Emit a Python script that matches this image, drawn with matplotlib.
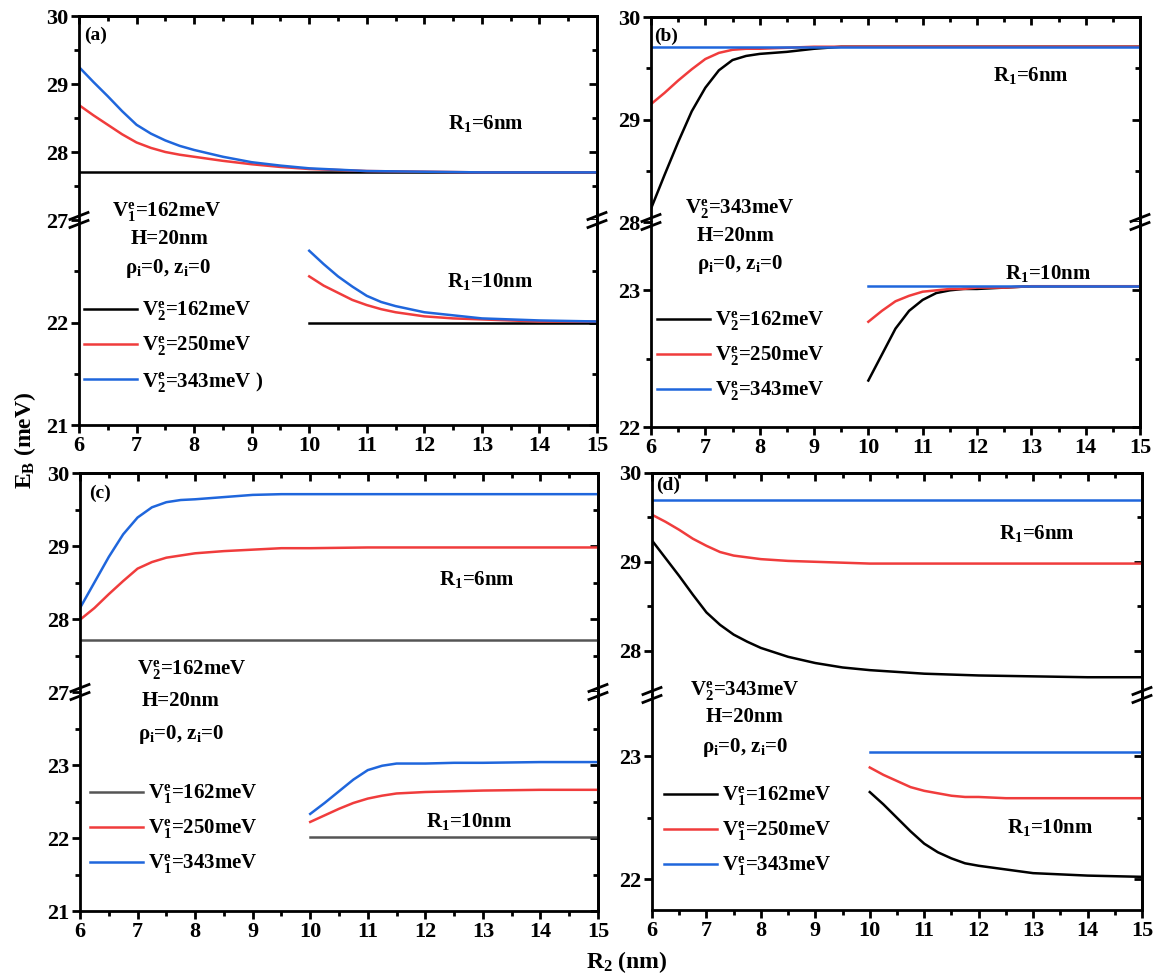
import numpy as np
import matplotlib
matplotlib.use('Agg')
import matplotlib.pyplot as plt
from matplotlib.lines import Line2D

plt.rcParams['font.family'] = ['Liberation Serif', 'DejaVu Serif']
plt.rcParams['font.weight'] = 'bold'
plt.rcParams['mathtext.fontset'] = 'custom'
plt.rcParams['mathtext.rm'] = 'Liberation Serif:bold'
plt.rcParams['mathtext.bf'] = 'Liberation Serif:bold'
plt.rcParams['mathtext.it'] = 'Liberation Serif:bold'
plt.rcParams['mathtext.default'] = 'bf'

# R2 values (nm)
r2_R6 = [6, 6.25, 6.5, 6.75, 7, 7.25, 7.5, 7.75, 8, 8.5, 9, 9.5, 10, 11, 12, 13, 14, 15]
r2_R10 = [10, 10.25, 10.5, 10.75, 11, 11.25, 11.5, 11.75, 12, 12.5, 13, 14, 15]

# (a) V1=162meV, varying V2
a_R6_162 = [27.70] * 18
a_R6_250 = [28.69, 28.54, 28.40, 28.26, 28.14, 28.06, 28.00, 27.96, 27.93, 27.87, 27.82, 27.78, 27.75,
            27.72, 27.71, 27.70, 27.70, 27.70]
a_R6_343 = [29.25, 29.03, 28.82, 28.60, 28.40, 28.27, 28.17, 28.09, 28.03, 27.93, 27.85, 27.80, 27.76,
            27.72, 27.71, 27.70, 27.70, 27.70]
a_R10_162 = [22.00] * 13
a_R10_250 = [22.45, 22.36, 22.29, 22.22, 22.17, 22.13, 22.10, 22.08, 22.06, 22.04, 22.03, 22.01, 22.01]
a_R10_343 = [22.70, 22.57, 22.45, 22.35, 22.26, 22.20, 22.16, 22.13, 22.10, 22.07, 22.04, 22.02, 22.01]

# (b) V2=343meV, legend V2
b_R6_162 = [28.13, 28.46, 28.78, 29.08, 29.31, 29.48, 29.58, 29.62, 29.64, 29.66, 29.69, 29.71, 29.71,
            29.71, 29.71, 29.71, 29.71, 29.71]
b_R6_250 = [29.15, 29.26, 29.38, 29.49, 29.59, 29.65, 29.68, 29.69, 29.69, 29.70, 29.71, 29.71, 29.71,
            29.71, 29.71, 29.71, 29.71, 29.71]
b_R6_343 = [29.71] * 18
b_R10_162 = [22.34, 22.53, 22.72, 22.85, 22.93, 22.98, 23.00, 23.01, 23.01, 23.02, 23.03, 23.03, 23.03]
b_R10_250 = [22.77, 22.85, 22.92, 22.96, 22.99, 23.00, 23.01, 23.01, 23.02, 23.02, 23.03, 23.03, 23.03]
b_R10_343 = [23.03] * 13

# (c) V2=162meV, varying V1
c_R6_162 = [27.71] * 18
c_R6_250 = [27.99, 28.15, 28.34, 28.52, 28.69, 28.78, 28.84, 28.87, 28.90, 28.93, 28.95, 28.97, 28.97,
            28.98, 28.98, 28.98, 28.98, 28.98]
c_R6_343 = [28.15, 28.50, 28.85, 29.16, 29.39, 29.53, 29.60, 29.63, 29.64, 29.67, 29.70, 29.71, 29.71,
            29.71, 29.71, 29.71, 29.71, 29.71]
c_R10_162 = [22.01] * 13
c_R10_250 = [22.22, 22.31, 22.40, 22.48, 22.54, 22.58, 22.61, 22.62, 22.63, 22.64, 22.65, 22.66, 22.66]
c_R10_343 = [22.33, 22.48, 22.64, 22.80, 22.93, 22.99, 23.02, 23.02, 23.02, 23.03, 23.03, 23.04, 23.04]

# (d) V2=343meV, varying V1
d_R6_162 = [29.24, 29.04, 28.84, 28.63, 28.43, 28.29, 28.18, 28.10, 28.03, 27.93, 27.86, 27.81, 27.78,
            27.74, 27.72, 27.71, 27.70, 27.70]
d_R6_250 = [29.53, 29.45, 29.36, 29.26, 29.18, 29.11, 29.07, 29.05, 29.03, 29.01, 29.00, 28.99, 28.98,
            28.98, 28.98, 28.98, 28.98, 28.98]
d_R6_343 = [29.70] * 18
d_R10_162 = [22.71, 22.61, 22.50, 22.39, 22.29, 22.22, 22.17, 22.13, 22.11, 22.08, 22.05, 22.03, 22.02]
d_R10_250 = [22.91, 22.85, 22.80, 22.75, 22.72, 22.70, 22.68, 22.67, 22.67, 22.66, 22.66, 22.66, 22.66]
d_R10_343 = [23.04] * 13

BLACK = '#000000'
RED = '#f03c3c'
BLUE = '#1f66dc'
GRAY = '#555555'

W, H = 1162, 980
fig = plt.figure(figsize=(W / 100, H / 100), dpi=100)


def fx(x):
    return x / W


def fy(y):
    return 1 - y / H


def style_y(ax, lo, hi, keep_hi):
    major = [v for v in np.arange(np.ceil(lo), hi + 0.01, 1.0) if keep_hi or v < hi - 0.01]
    minor = [v + 0.5 for v in np.arange(np.floor(lo), hi, 1.0) if lo + 0.01 < v + 0.5 < hi - 0.01]
    ax.set_ylim(lo, hi)
    ax.set_yticks(major)
    ax.set_yticks(minor, minor=True)
    ax.set_yticklabels([f"{v:g}" for v in major], fontsize=16, fontweight='bold')
    ax.tick_params(axis='y', which='major', direction='out', length=6, width=2, pad=2)
    ax.tick_params(axis='y', which='minor', direction='out', length=3.5, width=2)
    sec = ax.secondary_yaxis('right')
    sec.set_yticks(major, labels=[])
    sec.set_yticks(minor, minor=True)
    sec.tick_params(which='major', direction='in', length=6, width=2)
    sec.tick_params(which='minor', direction='in', length=3.5, width=2)
    sec.spines['right'].set_linewidth(2)


def make_panel(box, split, ylim_t, ylim_b, curves_t, curves_b):
    x0, y0, x1, y1 = box
    ax_t = fig.add_axes([fx(x0), fy(split), (x1 - x0) / W, (split - y0) / H])
    ax_b = fig.add_axes([fx(x0), fy(y1), (x1 - x0) / W, (y1 - split) / H])
    for ax in (ax_t, ax_b):
        ax.set_xlim(6, 15)
        for s in ax.spines.values():
            s.set_linewidth(2)
    for x, y, c in curves_t:
        ax_t.plot(x, y, color=c, lw=1.8)
    lines = []
    for x, y, c in curves_b:
        lines.append(ax_b.plot(x, y, color=c, lw=1.8)[0])

    ax_t.spines['bottom'].set_visible(False)
    ax_b.spines['top'].set_visible(False)
    style_y(ax_t, ylim_t[0], ylim_t[1], True)
    style_y(ax_b, ylim_b[0], ylim_b[1], False)

    # x ticks
    ax_t.tick_params(axis='x', which='both', bottom=False, labelbottom=False)
    sec = ax_t.secondary_xaxis('top')
    sec.set_xticks(range(6, 16), labels=[])
    sec.set_xticks(np.arange(6.5, 15, 1.0), minor=True)
    sec.tick_params(which='major', direction='in', length=6, width=2)
    sec.tick_params(which='minor', direction='in', length=3.5, width=2)
    sec.spines['top'].set_linewidth(2)
    ax_b.set_xticks(range(6, 16))
    ax_b.set_xticks(np.arange(6.5, 15, 1.0), minor=True)
    ax_b.set_xticklabels([str(v) for v in range(6, 16)], fontsize=16, fontweight='bold')
    ax_b.tick_params(axis='x', which='major', direction='out', length=6, width=2, pad=2)
    ax_b.tick_params(axis='x', which='minor', direction='out', length=3.5, width=2)

    # break marks
    for xb in (x0, x1):
        for yc in (split - 4, split + 4):
            fig.add_artist(Line2D([fx(xb - 9), fx(xb + 9)], [fy(yc + 3.5), fy(yc - 3.5)],
                                  color='black', lw=2, transform=fig.transFigure))
    return ax_t, ax_b, lines


def add_text(x, y, s, size=15):
    fig.text(fx(x), fy(y), s, ha='center', va='center', fontsize=size, fontweight='bold')


def add_legend(ax, lines, labels, x, y):
    ax.legend(lines, labels, loc='upper left', bbox_to_anchor=(fx(x), fy(y)),
              bbox_transform=fig.transFigure, frameon=False, borderpad=0, borderaxespad=0,
              handlelength=2.55, handletextpad=0.25, labelspacing=0.55,
              prop={'size': 15, 'weight': 'bold'})


# (a)
_, axb, ln = make_panel((79, 16, 597, 425), 220, (27, 30), (21, 23),
                        [(r2_R6, a_R6_162, BLACK), (r2_R6, a_R6_250, RED), (r2_R6, a_R6_343, BLUE)],
                        [(r2_R10, a_R10_162, BLACK), (r2_R10, a_R10_250, RED), (r2_R10, a_R10_343, BLUE)])
add_legend(axb, ln, ['$V_2^e$=162meV', '$V_2^e$=250meV', '$V_2^e$=343meV )'], 84, 300)
add_text(96, 35, '(a)', 14)
add_text(486, 124, 'R$_1$=6nm')
add_text(167, 212, '$V_1^e$=162meV')
add_text(170, 239, 'H=20nm')
add_text(168, 268, 'ρ$_i$=0, z$_i$=0')
add_text(490, 282, 'R$_1$=10nm')

# (b)
_, axb, ln = make_panel((651, 17, 1140, 427), 222, (28, 30), (22, 23.5),
                        [(r2_R6, b_R6_162, BLACK), (r2_R6, b_R6_250, RED), (r2_R6, b_R6_343, BLUE)],
                        [(r2_R10, b_R10_162, BLACK), (r2_R10, b_R10_250, RED), (r2_R10, b_R10_343, BLUE)])
add_legend(axb, ln, ['$V_2^e$=162meV', '$V_2^e$=250meV', '$V_2^e$=343meV'], 657, 310)
add_text(666, 36, '(b)', 14)
add_text(1031, 75, 'R$_1$=6nm')
add_text(740, 209, '$V_2^e$=343meV')
add_text(736, 236, 'H=20nm')
add_text(740, 264, 'ρ$_i$=0, z$_i$=0')
add_text(1048, 274, 'R$_1$=10nm')

# (c)
_, axb, ln = make_panel((80, 473, 598, 911), 692, (27, 30), (21, 24),
                        [(r2_R6, c_R6_162, GRAY), (r2_R6, c_R6_250, RED), (r2_R6, c_R6_343, BLUE)],
                        [(r2_R10, c_R10_162, GRAY), (r2_R10, c_R10_250, RED), (r2_R10, c_R10_343, BLUE)])
add_legend(axb, ln, ['$V_1^e$=162meV', '$V_1^e$=250meV', '$V_1^e$=343meV'], 90, 783)
add_text(100, 493, '(c)', 14)
add_text(477, 579, 'R$_1$=6nm')
add_text(192, 670, '$V_2^e$=162meV')
add_text(181, 701, 'H=20nm')
add_text(181, 734, 'ρ$_i$=0, z$_i$=0')
add_text(469, 821, 'R$_1$=10nm')

# (d)
_, axb, ln = make_panel((652, 473, 1142, 910), 695, (27.5, 30), (21.75, 23.5),
                        [(r2_R6, d_R6_162, BLACK), (r2_R6, d_R6_250, RED), (r2_R6, d_R6_343, BLUE)],
                        [(r2_R10, d_R10_162, BLACK), (r2_R10, d_R10_250, RED), (r2_R10, d_R10_343, BLUE)])
add_legend(axb, ln, ['$V_1^e$=162meV', '$V_1^e$=250meV', '$V_1^e$=343meV'], 664, 785)
add_text(668, 485, '(d)', 14)
add_text(1037, 534, 'R$_1$=6nm')
add_text(745, 691, '$V_2^e$=343meV')
add_text(745, 717, 'H=20nm')
add_text(745, 747, 'ρ$_i$=0, z$_i$=0')
add_text(1050, 827, 'R$_1$=10nm')

fig.text(fx(25), fy(440), 'E$_B$ (meV)', rotation=90, ha='center', va='center', fontsize=17, fontweight='bold')
fig.text(fx(627), fy(962), 'R$_2$ (nm)', ha='center', va='center', fontsize=17, fontweight='bold')

fig.savefig('out.png', dpi=100)
